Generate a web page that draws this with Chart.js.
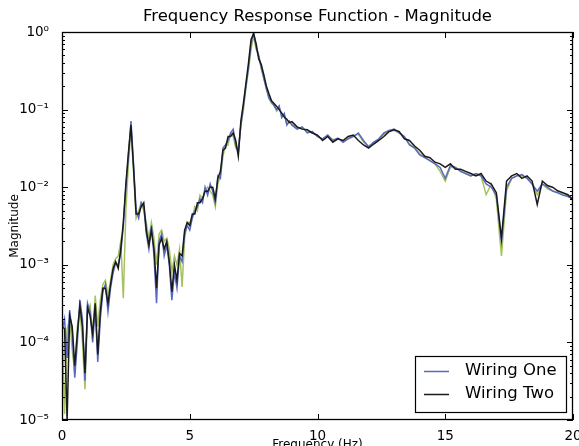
<!DOCTYPE html>
<html>
<head>
<meta charset="utf-8">
<script src="https://cdn.jsdelivr.net/npm/chart.js@4"></script>
<style>
  html, body { margin: 0; padding: 0; background: #fff; }
  #wrap { width: 579px; height: 446px; }
</style>
</head>
<body>
<div id="wrap"><canvas id="frf"></canvas></div>
<script>
// Frequências (Hz)
const freq = [
  0, 0.1, 0.2, 0.3, 0.4, 0.5, 0.6, 0.7, 0.8, 0.9,
  1, 1.1, 1.2, 1.3, 1.4, 1.5, 1.6, 1.7, 1.8, 1.9,
  2, 2.1, 2.2, 2.3, 2.4, 2.5, 2.6, 2.7, 2.8, 2.9,
  3, 3.1, 3.2, 3.3, 3.4, 3.5, 3.6, 3.7, 3.8, 3.9,
  4, 4.1, 4.2, 4.3, 4.4, 4.5, 4.6, 4.7, 4.8, 4.9,
  5, 5.1, 5.2, 5.3, 5.4, 5.5, 5.6, 5.7, 5.8, 5.9,
  6, 6.1, 6.2, 6.3, 6.4, 6.5, 6.6, 6.7, 6.8, 6.9,
  7, 7.1, 7.2, 7.3, 7.4, 7.5, 7.6, 7.7, 7.8, 7.9,
  8, 8.1, 8.2, 8.3, 8.4, 8.5, 8.6, 8.7, 8.8, 8.9,
  9,
  9.2, 9.4, 9.6, 9.8, 10, 10.2, 10.4, 10.6, 10.8, 11,
  11.2, 11.4, 11.6, 11.8, 12, 12.2, 12.4, 12.6, 12.8, 13,
  13.2, 13.4, 13.6, 13.8, 14, 14.2, 14.4, 14.6, 14.8, 15,
  15.2, 15.4, 15.6, 15.8, 16, 16.2, 16.4, 16.6, 16.8, 17,
  17.2, 17.4, 17.6, 17.8, 18, 18.2, 18.4, 18.6, 18.8, 19,
  19.2, 19.4, 19.6, 19.8, 20
];

const wiringOne = [
  1.4e-4, 2.0e-4, 6.3e-5, 2.6e-4, 1.3e-4, 3.5e-5, 1.0e-4, 3.5e-4, 2.0e-4, 3.2e-5,
  3.2e-4, 2.5e-4, 1.0e-4, 2.8e-4, 5.6e-5, 2.0e-4, 4.5e-4, 5.6e-4, 2.5e-4, 5.0e-4,
  7.9e-4, 1.05e-3, 1.0e-3, 1.4e-3, 3.2e-3, 1.0e-2, 2.5e-2, 7.1e-2, 2.0e-2, 5.0e-3,
  4.0e-3, 6.3e-3, 5.6e-3, 2.5e-3, 1.6e-3, 3.2e-3, 1.3e-3, 3.2e-4, 2.0e-3, 2.5e-3,
  1.3e-3, 1.8e-3, 1.0e-3, 3.5e-4, 7.9e-4, 5.0e-4, 1.3e-3, 1.1e-3, 2.5e-3, 3.2e-3,
  2.8e-3, 4.0e-3, 5.0e-3, 5.6e-3, 7.1e-3, 6.3e-3, 1.0e-2, 7.9e-3, 1.1e-2, 8.9e-3,
  6.3e-3, 1.4e-2, 1.3e-2, 3.2e-2, 3.5e-2, 4.0e-2, 5.0e-2, 5.6e-2, 3.5e-2, 2.8e-2,
  6.3e-2, 0.11, 0.2, 0.35, 0.71, 1.0, 0.63, 0.5, 0.35, 0.25,
  0.19, 0.14, 0.126, 0.112, 0.1, 0.112, 0.079, 0.089, 0.063, 0.071,
  0.063,
  0.056, 0.06, 0.05, 0.052, 0.045, 0.042, 0.047, 0.04, 0.043, 0.038,
  0.042, 0.045, 0.05, 0.04, 0.033, 0.038, 0.042, 0.05, 0.054, 0.056,
  0.05, 0.045, 0.035, 0.032, 0.026, 0.024, 0.022, 0.02, 0.018, 0.013,
  0.019, 0.018, 0.016, 0.015, 0.014, 0.015, 0.014, 0.011, 0.01, 0.0079,
  0.002, 0.01, 0.013, 0.014, 0.0145, 0.013, 0.011, 0.0089, 0.011, 0.01,
  0.0089, 0.0085, 0.0079, 0.0076, 0.0071
];

const wiringTwo = [
  1.6e-4, 1.5e-4, 1.0e-5, 2.2e-4, 1.6e-4, 5.0e-5, 1.3e-4, 3.0e-4, 1.6e-4, 4.0e-5,
  2.8e-4, 2.2e-4, 1.3e-4, 3.2e-4, 7.0e-5, 2.5e-4, 5.0e-4, 5.0e-4, 3.2e-4, 5.6e-4,
  8.9e-4, 1.1e-3, 9.0e-4, 1.6e-3, 3.5e-3, 1.1e-2, 2.8e-2, 6.3e-2, 1.8e-2, 4.5e-3,
  4.5e-3, 5.6e-3, 6.3e-3, 2.8e-3, 1.8e-3, 2.8e-3, 1.6e-3, 5.0e-4, 1.8e-3, 2.2e-3,
  1.6e-3, 2.0e-3, 1.1e-3, 4.5e-4, 1.0e-3, 6.3e-4, 1.4e-3, 1.3e-3, 2.8e-3, 3.5e-3,
  3.2e-3, 4.5e-3, 4.5e-3, 6.3e-3, 6.3e-3, 7.1e-3, 8.9e-3, 8.9e-3, 1.0e-2, 1.0e-2,
  7.1e-3, 1.3e-2, 1.6e-2, 3.0e-2, 3.2e-2, 4.5e-2, 4.5e-2, 5.0e-2, 4.0e-2, 2.5e-2,
  7.1e-2, 0.12, 0.22, 0.4, 0.8, 0.95, 0.7, 0.45, 0.38, 0.28,
  0.2, 0.16, 0.13, 0.12, 0.11, 0.1, 0.09, 0.08, 0.075, 0.068,
  0.07,
  0.06, 0.056, 0.055, 0.05, 0.047, 0.04, 0.045, 0.038, 0.042, 0.04,
  0.045, 0.047, 0.04, 0.035, 0.032, 0.036, 0.04, 0.045, 0.052, 0.055,
  0.052, 0.042, 0.04, 0.034, 0.03, 0.025, 0.024, 0.021, 0.02, 0.018,
  0.02, 0.017, 0.017, 0.016, 0.015, 0.014, 0.015, 0.012, 0.011, 0.0085,
  0.0022, 0.012, 0.014, 0.015, 0.013, 0.014, 0.012, 0.006, 0.012, 0.0105,
  0.01, 0.009, 0.0085, 0.008, 0.0068
];

// terceiro traço (verde), sem entrada na legenda
const wiringThird = [
  2.0e-4, 1.2e-5, 1.5e-4, 2.0e-4, 8.0e-5, 4.0e-5, 1.6e-4, 2.8e-4, 1.0e-4, 2.5e-5,
  2.5e-4, 3.0e-4, 1.3e-4, 4.0e-4, 1.6e-4, 3.5e-4, 5.6e-4, 6.3e-4, 4.0e-4, 6.3e-4,
  1.0e-3, 1.2e-3, 1.3e-3, 2.0e-3, 3.7e-4, 5.0e-3, 2.0e-2, 5.6e-2, 1.6e-2, 4.0e-3,
  5.0e-3, 6.3e-3, 5.0e-3, 3.5e-3, 2.2e-3, 3.5e-3, 2.2e-3, 1.0e-3, 2.5e-3, 2.8e-3,
  2.0e-3, 2.2e-3, 1.6e-3, 8.0e-4, 1.3e-3, 1.0e-3, 1.6e-3, 5.2e-4, 2.2e-3, 3.5e-3,
  3.5e-3, 4.0e-3, 5.6e-3, 5.0e-3, 7.9e-3, 7.1e-3, 8.9e-3, 1.0e-2, 8.9e-3, 7.9e-3,
  5.6e-3, 1.1e-2, 1.4e-2, 2.5e-2, 3.5e-2, 3.5e-2, 5.0e-2, 4.5e-2, 3.2e-2, 3.2e-2,
  6.0e-2, 0.1, 0.19, 0.33, 0.6, 0.9, 0.6, 0.48, 0.33, 0.26,
  0.18, 0.14, 0.12, 0.115, 0.095, 0.105, 0.085, 0.085, 0.065, 0.07,
  0.065,
  0.058, 0.058, 0.052, 0.05, 0.046, 0.041, 0.046, 0.041, 0.042, 0.039,
  0.043, 0.046, 0.048, 0.038, 0.034, 0.037, 0.041, 0.048, 0.053, 0.054,
  0.05, 0.044, 0.036, 0.033, 0.027, 0.024, 0.022, 0.02, 0.016, 0.012,
  0.018, 0.018, 0.016, 0.015, 0.014, 0.015, 0.014, 0.008, 0.011, 0.007,
  0.0013, 0.009, 0.013, 0.014, 0.014, 0.013, 0.011, 0.008, 0.011, 0.0095,
  0.009, 0.0085, 0.008, 0.0078, 0.007
];

const xTicks = [0, 5, 10, 15, 20];
const yTicks = [1e-5, 1e-4, 1e-3, 1e-2, 1e-1, 1];
const legendNames = ["Wiring One", "Wiring Two"];

const FONT = "'DejaVu Sans', sans-serif";
const sup = { "-": "\u207B", "0": "\u2070", "1": "\u00B9", "2": "\u00B2", "3": "\u00B3", "4": "\u2074", "5": "\u2075" };
function decadeLabel(v) {
  const e = String(Math.round(Math.log10(v)));
  return "10" + e.split("").map(c => sup[c]).join("");
}

const pts = arr => freq.map((f, i) => ({ x: f, y: arr[i] }));

// moldura, ticks para dentro, título e legenda (estilo matplotlib)
const framePlugin = {
  id: "frame",
  afterDraw(chart) {
    const { ctx, chartArea: a, scales } = chart;
    const xs = scales.x, ys = scales.y;
    ctx.save();
    ctx.strokeStyle = "#000";
    ctx.lineWidth = 1.3;
    ctx.strokeRect(a.left + 0.5, a.top + 0.5, a.right - a.left - 1, a.bottom - a.top - 1);

    ctx.lineWidth = 1;
    ctx.beginPath();
    xTicks.forEach(v => {
      const px = Math.round(xs.getPixelForValue(v)) + 0.5;
      ctx.moveTo(px, a.bottom); ctx.lineTo(px, a.bottom - 6);
      ctx.moveTo(px, a.top); ctx.lineTo(px, a.top + 6);
    });
    yTicks.forEach(v => {
      const py = Math.round(ys.getPixelForValue(v)) + 0.5;
      ctx.moveTo(a.left, py); ctx.lineTo(a.left + 6, py);
      ctx.moveTo(a.right, py); ctx.lineTo(a.right - 6, py);
    });
    for (let k = 0; k < yTicks.length - 1; k++) {
      for (let m = 2; m <= 9; m++) {
        const py = Math.round(ys.getPixelForValue(yTicks[k] * m)) + 0.5;
        ctx.moveTo(a.left, py); ctx.lineTo(a.left + 3, py);
        ctx.moveTo(a.right, py); ctx.lineTo(a.right - 3, py);
      }
    }
    ctx.stroke();

    // título centrado sobre os eixos
    ctx.fillStyle = "#000";
    ctx.font = "16.5px " + FONT;
    ctx.textAlign = "center";
    ctx.textBaseline = "middle";
    ctx.fillText("Frequency Response Function - Magnitude", (a.left + a.right) / 2, 17);

    // legenda
    const bx = 415, by = 356, bw = 151, bh = 56;
    ctx.fillStyle = "#fff";
    ctx.fillRect(bx, by, bw, bh);
    ctx.strokeStyle = "#000";
    ctx.lineWidth = 1.2;
    ctx.strokeRect(bx + 0.5, by + 0.5, bw, bh);
    ctx.font = "16.5px " + FONT;
    ctx.textAlign = "left";
    legendNames.forEach((name, i) => {
      const ds = chart.data.datasets[i];
      const y = by + 15 + i * 23;
      ctx.strokeStyle = ds.borderColor;
      ctx.lineWidth = 1.5;
      ctx.beginPath();
      ctx.moveTo(bx + 9, y + 0.5); ctx.lineTo(bx + 34, y + 0.5);
      ctx.stroke();
      ctx.fillStyle = "#000";
      ctx.fillText(name, bx + 50, y);
    });
    ctx.restore();
  }
};

new Chart(document.getElementById("frf"), {
  type: "line",
  data: {
    datasets: [
      { label: legendNames[0], data: pts(wiringOne), borderColor: "#5868c2", order: 1 },
      { label: legendNames[1], data: pts(wiringTwo), borderColor: "#1a1a1a", order: 0 },
      { label: "", data: pts(wiringThird), borderColor: "#a6c25e", order: 2 }
    ]
  },
  options: {
    responsive: true,
    maintainAspectRatio: false,
    animation: false,
    devicePixelRatio: 1,
    layout: { padding: { top: 32, right: 6, left: 0, bottom: 0 } },
    elements: {
      line: { borderWidth: 1.5, tension: 0, fill: false },
      point: { radius: 0 }
    },
    plugins: { legend: { display: false }, tooltip: { enabled: false }, title: { display: false } },
    scales: {
      x: {
        type: "linear",
        min: 0, max: 20,
        grid: { display: false },
        border: { display: false },
        afterBuildTicks: s => { s.ticks = xTicks.map(v => ({ value: v })); },
        afterFit: s => { s.height = 26; s.paddingLeft = 0; s.paddingRight = 0; },
        ticks: { color: "#000", font: { family: FONT, size: 13.5 }, padding: 0, maxRotation: 0 },
        title: { display: true, text: "Frequency (Hz)", color: "#000", font: { family: FONT, size: 12 }, padding: { top: 0, bottom: -6 } }
      },
      y: {
        type: "logarithmic",
        min: 1e-5, max: 1,
        grid: { display: false },
        border: { display: false },
        afterBuildTicks: s => { s.ticks = yTicks.map(v => ({ value: v })); },
        afterFit: s => { s.width = 62; s.paddingTop = 0; s.paddingBottom = 0; },
        ticks: { color: "#000", font: { family: FONT, size: 13.5 }, padding: 5, callback: v => decadeLabel(v) },
        title: { display: true, text: "Magnitude", color: "#000", font: { family: FONT, size: 12 }, padding: { top: 8, bottom: 0 } }
      }
    }
  },
  plugins: [framePlugin]
});
</script>
</body>
</html>
